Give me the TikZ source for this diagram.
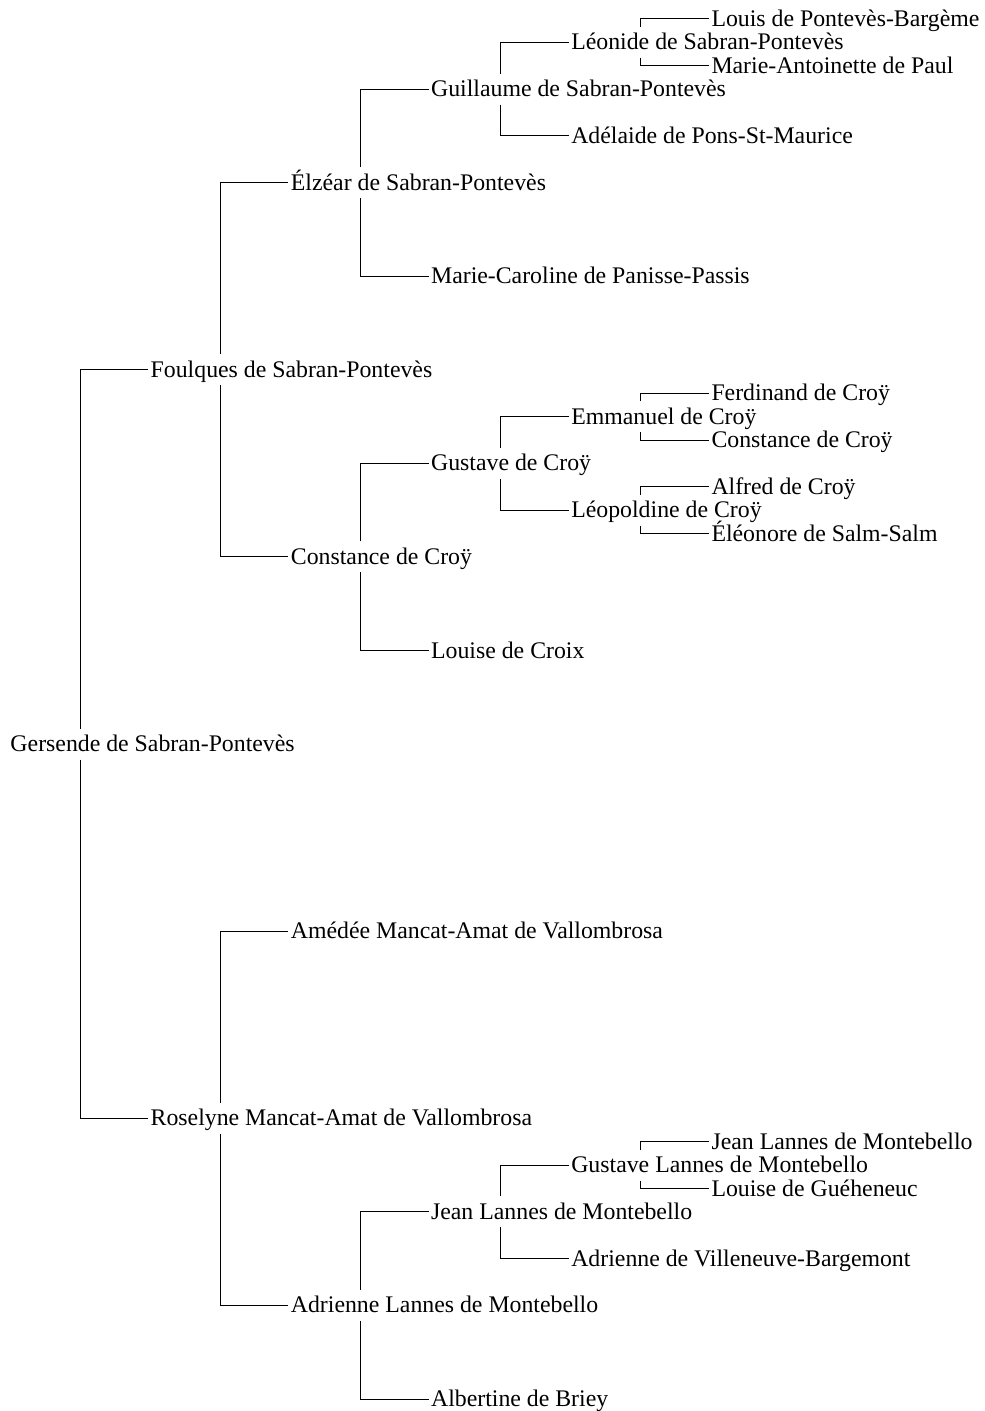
\documentclass[tikz,border=0pt]{standalone}
\usepackage{fontspec}
\setmainfont{Liberation Serif}

\begin{document}
\begin{tikzpicture}[x=70.1pt,y=-11.695pt,line width=0.5pt,
	every node/.style={anchor=west,font=\fontsize{11.9}{14}\selectfont,inner xsep=1pt,inner ysep=2.45pt,text height=8.8pt,text depth=1.3pt},
	up child/.style={to path={([xshift=36pt]\tikztostart.north west) |- (\tikztotarget.west)}},
	down child/.style={to path={([xshift=36pt]\tikztostart.south west) |- (\tikztotarget.west)}}]
	\useasboundingbox (0pt,0pt) rectangle (492pt,-705.5pt);
	\begin{scope}[shift={(4pt,-9.5pt)}]
	% generation 0 and 1
	\node (gers) at (0,31) {Gersende de Sabran-Pontevès};
	\node (foul) at (1,15) {Foulques de Sabran-Pontevès};
	\node (rose) at (1,47) {Roselyne Mancat-Amat de Vallombrosa};
	% generation 2
	\node (elze) at (2,7) {Élzéar de Sabran-Pontevès};
	\node (cons) at (2,23) {Constance de Croÿ};
	\node (amed) at (2,39) {Amédée Mancat-Amat de Vallombrosa};
	\node (adri) at (2,55) {Adrienne Lannes de Montebello};
	% generation 3
	\node (guil) at (3,3) {Guillaume de Sabran-Pontevès};
	\node (mcar) at (3,11) {Marie-Caroline de Panisse-Passis};
	\node (gust) at (3,19) {Gustave de Croÿ};
	\node (lcro) at (3,27) {Louise de Croix};
	\node (jean) at (3,51) {Jean Lannes de Montebello};
	\node (albe) at (3,59) {Albertine de Briey};
	% generation 4
	\node (leon) at (4,1) {Léonide de Sabran-Pontevès};
	\node (adel) at (4,5) {Adélaide de Pons-St-Maurice};
	\node (emma) at (4,17) {Emmanuel de Croÿ};
	\node (leop) at (4,21) {Léopoldine de Croÿ};
	\node (gulm) at (4,49) {Gustave Lannes de Montebello};
	\node (advb) at (4,53) {Adrienne de Villeneuve-Bargemont};
	% generation 5
	\node (loui) at (5,0) {Louis de Pontevès-Bargème};
	\node (mant) at (5,2) {Marie-Antoinette de Paul};
	\node (ferd) at (5,16) {Ferdinand de Croÿ};
	\node (cocr) at (5,18) {Constance de Croÿ};
	\node (alfr) at (5,20) {Alfred de Croÿ};
	\node (eleo) at (5,22) {Éléonore de Salm-Salm};
	\node (jnlm) at (5,48) {Jean Lannes de Montebello};
	\node (lgue) at (5,50) {Louise de Guéheneuc};
	% links
	\draw (gers) edge[up child] (foul) edge[down child] (rose);
	\draw (foul) edge[up child] (elze) edge[down child] (cons);
	\draw (rose) edge[up child] (amed) edge[down child] (adri);
	\draw (elze) edge[up child] (guil) edge[down child] (mcar);
	\draw (cons) edge[up child] (gust) edge[down child] (lcro);
	\draw (adri) edge[up child] (jean) edge[down child] (albe);
	\draw (guil) edge[up child] (leon) edge[down child] (adel);
	\draw (gust) edge[up child] (emma) edge[down child] (leop);
	\draw (jean) edge[up child] (gulm) edge[down child] (advb);
	\draw (leon) edge[up child] (loui) edge[down child] (mant);
	\draw (emma) edge[up child] (ferd) edge[down child] (cocr);
	\draw (leop) edge[up child] (alfr) edge[down child] (eleo);
	\draw (gulm) edge[up child] (jnlm) edge[down child] (lgue);
	\end{scope}
\end{tikzpicture}
\end{document}
